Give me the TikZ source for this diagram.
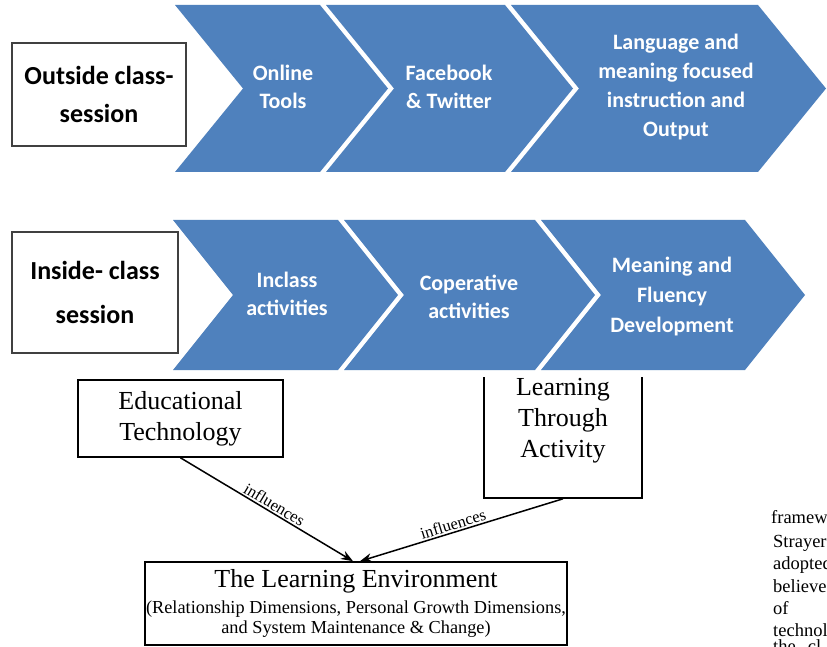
\documentclass[tikz,border=0pt]{standalone}
\usepackage{fontspec}
\setmainfont{Liberation Serif}
\newfontfamily\calibri{Carlito}
\usepackage{xcolor}
\usetikzlibrary{arrows.meta}
\definecolor{chevblue}{RGB}{79,129,189}
% left x, right x, top y, bottom y, depth of the point
\newcommand{\Chev}[5]{%
  \fill[chevblue] (#1,#3) -- (#2,#3) -- ({#2+#5},{(#3+#4)/2}) -- (#2,#4)
    -- (#1,#4) -- ({#1+#5},{(#3+#4)/2}) -- cycle;}
\newcommand{\subfont}{\fontsize{18.3}{20}\selectfont}

\begin{document}
\begin{tikzpicture}[x=1pt,y=-1pt,
  sessbox/.style={draw=black!75,fill=white,line width=1.3pt,align=center,inner sep=0pt,
    font=\calibri\bfseries\fontsize{26}{38}\selectfont},
  chevtext/.style={text=white,align=center,font=\calibri\bfseries\fontsize{22}{28}\selectfont},
  conceptbox/.style={draw=black,line width=1.6pt,fill=white,align=center,inner sep=0pt,
    font=\fontsize{26}{31}\selectfont},
  infl/.style={line width=1.5pt,-{Stealth[length=12pt,width=9pt]}},
  infllabel/.style={font=\fontsize{16.5}{16.5}\selectfont,sloped,above,inner sep=1.5pt},
  bodytext/.style={anchor=base west,inner sep=0pt,font=\fontsize{18.5}{22}\selectfont}]
\clip (0,0) rectangle (827,647);

% lower figure
\node[conceptbox,minimum width=205,minimum height=77] (tech) at (180.5,418.5) {Educational\\Technology};
\node[conceptbox,minimum width=158,minimum height=154] (act) at (563,421) {Learning\\Through\\Activity};
\node[conceptbox,minimum width=422,minimum height=83,font=\subfont] (env) at (356,603.5)
  {{\fontsize{26}{26}\selectfont The Learning Environment}\\[6pt]
   (Relationship Dimensions, Personal Growth Dimensions,\\
   and System Maintenance \& Change)};
\draw[infl] (tech.south) -- node[infllabel,pos=0.52] {influences} ([xshift=-3pt]env.north);
\draw[infl] (act.south) -- node[infllabel,pos=0.53] {influences} ([xshift=4pt]env.north);

% upper figure on its white sheet
\fill[white] (0,0) rectangle (827,377);
\Chev{175}{320}{5}{172}{68}
\Chev{326}{505}{5}{172}{68}
\Chev{511}{758}{5}{172}{68}
\Chev{173}{338}{220}{370}{60}
\Chev{344}{535}{220}{370}{60}
\Chev{541}{745}{220}{370}{60}

\node[sessbox,minimum width=174,minimum height=103] (outside) at (99,94.5) {Outside class-\\session};
\node[sessbox,minimum width=166,minimum height=121,font=\calibri\bfseries\fontsize{26}{44}\selectfont]
  (inside) at (95,292.5) {Inside- class\\session};

\node[chevtext] (online) at (283,87) {Online\\Tools};
\node[chevtext] (social) at (449,87) {Facebook\\\& Twitter};
\node[chevtext,font=\calibri\bfseries\fontsize{22}{29}\selectfont] (output) at (676,87)
  {Language and\\meaning focused\\instruction and\\Output};
\node[chevtext] (inclass) at (287,294) {Inclass\\activities};
\node[chevtext] (coop) at (469,297) {Coperative\\activities};
\node[chevtext,font=\calibri\bfseries\fontsize{22}{30}\selectfont] (fluency) at (672,297)
  {Meaning and\\Fluency\\Development};

% running text beside the figure
\node[bodytext] (line1) at (771,523) {framew};
\node[bodytext] (line2) at (773,547) {Strayer};
\node[bodytext] (line3) at (773,569.5) {adopted};
\node[bodytext] (line4) at (773,592) {believe};
\node[bodytext] (line5) at (773,614) {of};
\node[bodytext] (line6) at (773,636) {technol};
\node[bodytext] (line7) at (773,652) {the\hspace{12pt}cl};
\end{tikzpicture}
\end{document}
